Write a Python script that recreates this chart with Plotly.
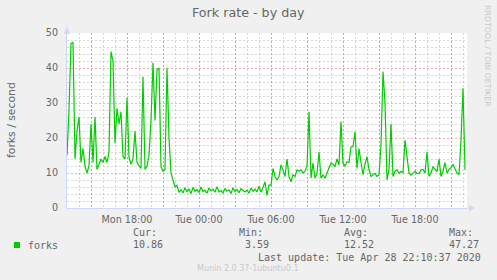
import datetime as dt
import plotly.graph_objects as go

# ---- data (10-minute samples starting Mon 2020-04-27 13:00) ----
start_time = "2020-04-27 13:00"
step_minutes = 10
forks = [
    15, 28, 47, 47.27, 14, 22, 26, 13, 17, 12, 10, 12, 24, 13, 26, 11, 12.5, 14, 13, 14.7,
    13, 16, 44.7, 42, 18.5, 28.5, 24, 27.5, 14.7, 14, 31.5, 14.5, 12.5, 14, 22, 13, 12, 11.3,
    37.5, 11, 12, 15, 25, 41.5, 25, 39.5, 40, 11.8, 10.5, 11, 40, 20, 10, 8, 6, 6.5, 4.5,
    5.2, 4.3, 5.8, 4.6, 5.5, 4.1, 5.9, 4.8, 5.3, 4.4, 6.0, 4.7, 5.1, 4.2, 5.7, 4.9, 5.4, 4.5,
    6.1, 4.6, 5.0, 4.3, 5.6, 4.8, 5.2, 4.1, 5.8, 4.7, 5.3, 4.4, 5.5, 4.9, 4.6, 5.1, 4.2, 5.7,
    4.8, 5.4, 4.6, 6.2, 4.5, 5.9,
    7.5, 3.59, 6.6, 6.5, 11.3, 9, 8, 9, 12.3, 10.9, 9, 14, 9, 7.5, 9.5, 9, 10.9, 10.5, 10.9,
    10, 10.5, 12, 27.5, 8.5, 12.8, 8.5, 10, 16, 8.5, 9.5, 8.5, 10, 11.5, 12.8, 12.5, 11.8,
    14, 12.3, 24.7, 12.8, 12, 13.2, 13, 17.5, 17.5, 21.8, 11.3, 17, 13, 9.5, 12.5, 14.7, 11,
    9, 9.5, 9.9, 9, 9.5, 18, 39, 30, 8, 11, 24, 9, 10.5, 10.9, 9.9, 10.5, 10, 19.4, 14, 10,
    9.4, 10, 10.5, 9.9, 9.8, 10.9, 11, 10, 16, 9, 10, 11.8, 11, 10.4, 14, 9, 10.5, 13, 10,
    11, 11.5, 12.5, 11.2, 10, 9.5, 19.4, 34.2, 10.86,
]
x_range = ["2020-04-27 13:00", "2020-04-28 22:20"]
major_ticks = ["2020-04-27 15:00", "2020-04-27 18:00", "2020-04-27 21:00",
               "2020-04-28 00:00", "2020-04-28 03:00", "2020-04-28 06:00",
               "2020-04-28 09:00", "2020-04-28 12:00", "2020-04-28 15:00",
               "2020-04-28 18:00", "2020-04-28 21:00"]
major_labels = ["", "Mon 18:00", "", "Tue 00:00", "", "Tue 06:00", "",
                "Tue 12:00", "", "Tue 18:00", ""]
stat_names = ["Cur:", "Min:", "Avg:", "Max:"]
stat_values = [10.86, 3.59, 12.52, 47.27]
series_name = "forks"
title_text = "Fork rate - by day"
y_title = "forks / second"
last_update = "Last update: Tue Apr 28 22:10:37 2020"
footer = "Munin 2.0.37-1ubuntu0.1"
watermark = "RRDTOOL / TOBI OETIKER"

t0 = dt.datetime.strptime(start_time, "%Y-%m-%d %H:%M")
times = [t0 + dt.timedelta(minutes=step_minutes * i) for i in range(len(forks))]

# ---- layout geometry (pixels) ----
W, H = 497, 280
L, R, T, B = 67, 467, 33, 208
PW, PH = R - L, B - T


def px(x):
    return (x - L) / PW


def py(y):
    return (B - y) / PH


FONT = "DejaVu Sans"
MONO = "DejaVu Sans Mono"
FC = "#666666"
GREEN = "#00CC00"
MGRID = "rgba(225,90,90,0.45)"
GRID = "rgba(150,150,150,0.38)"
AXIS = "#CFD6F8"
DASH = "2px,2px"

fig = go.Figure()
fig.add_trace(go.Scatter(x=times, y=forks, mode="lines",
                         line=dict(color=GREEN, width=1.2), name=series_name,
                         showlegend=False, hoverinfo="skip"))

fig.update_layout(
    width=W, height=H,
    margin=dict(l=L, r=W - R, t=T, b=H - B),
    paper_bgcolor="#F0F0F0", plot_bgcolor="#FFFFFF",
    font=dict(family=FONT, color=FC, size=10),
    showlegend=False,
)
fig.update_xaxes(
    type="date", range=x_range, tickvals=major_ticks, ticktext=major_labels,
    showgrid=True, gridcolor=MGRID, griddash=DASH, gridwidth=1,
    minor=dict(dtick=3600000, showgrid=True, gridcolor=GRID, griddash=DASH),
    showline=True, linecolor=AXIS, linewidth=1, ticks="", zeroline=False,
    tickfont=dict(family=FONT, size=9.6, color=FC), ticklabelstandoff=2,
)
fig.update_yaxes(
    range=[0, 50], dtick=10, tick0=0,
    showgrid=True, gridcolor=MGRID, griddash=DASH, gridwidth=1,
    minor=dict(dtick=2, showgrid=True, gridcolor=GRID, griddash=DASH),
    showline=True, linecolor=AXIS, linewidth=1, ticks="", zeroline=False,
    tickfont=dict(family=FONT, size=9.6, color=FC), ticklabelstandoff=6,
)

shapes = []
# axis arrows
shapes.append(dict(type="path", xref="paper", yref="paper",
                   path=f"M {px(64)} {py(34)} L {px(67)} {py(26)} L {px(70)} {py(34)} Z",
                   fillcolor=AXIS, line=dict(width=0)))
shapes.append(dict(type="line", xref="paper", yref="paper",
                   x0=px(467), x1=px(470), y0=0, y1=0, line=dict(color=AXIS, width=1)))
shapes.append(dict(type="path", xref="paper", yref="paper",
                   path=f"M {px(469)} {py(205)} L {px(475)} {py(208)} L {px(469)} {py(211)} Z",
                   fillcolor=AXIS, line=dict(width=0)))
# legend swatch
shapes.append(dict(type="rect", xref="paper", yref="paper",
                   x0=px(14), x1=px(20), y0=py(248), y1=py(242),
                   fillcolor=GREEN, line=dict(width=0)))
fig.update_layout(shapes=shapes)

ann = []
ann.append(dict(text=title_text, x=px(248.5), y=py(13), xref="paper", yref="paper",
                showarrow=False, xanchor="center", yanchor="middle",
                font=dict(family=FONT, size=12.7, color=FC)))
ann.append(dict(text=y_title, x=px(11), y=py(120), xref="paper", yref="paper",
                showarrow=False, xanchor="center", yanchor="middle", textangle=-90,
                font=dict(family=FONT, size=10.8, color=FC)))
ann.append(dict(text=watermark, x=px(488), y=py(56), xref="paper", yref="paper",
                showarrow=False, xanchor="center", yanchor="middle", textangle=90,
                font=dict(family=FONT, size=7.9, color="#C8C8C8")))
ann.append(dict(text=series_name, x=px(26), y=py(245), xref="paper", yref="paper",
                showarrow=False, xanchor="left", yanchor="middle",
                font=dict(family=MONO, size=10, color=FC)))
stat_x = [131, 236.5, 342, 447]
for name, val, sx in zip(stat_names, stat_values, stat_x):
    ann.append(dict(text=name, x=px(sx), y=py(232.5), xref="paper", yref="paper",
                    showarrow=False, xanchor="left", yanchor="middle",
                    font=dict(family=MONO, size=10, color=FC)))
    ann.append(dict(text=f"{val:5.2f}".replace(" ", "&nbsp;"), x=px(sx), y=py(244.5),
                    xref="paper", yref="paper",
                    showarrow=False, xanchor="left", yanchor="middle",
                    font=dict(family=MONO, size=10, color=FC)))
ann.append(dict(text=last_update.replace(" ", "&nbsp;"), x=px(483), y=py(257),
                xref="paper", yref="paper",
                showarrow=False, xanchor="right", yanchor="middle",
                font=dict(family=MONO, size=10, color=FC)))
ann.append(dict(text=footer, x=px(248), y=py(268.5), xref="paper", yref="paper",
                showarrow=False, xanchor="center", yanchor="middle",
                font=dict(family=FONT, size=8, color="#C8C8C8")))
fig.update_layout(annotations=ann)

fig.write_html("out.html")
